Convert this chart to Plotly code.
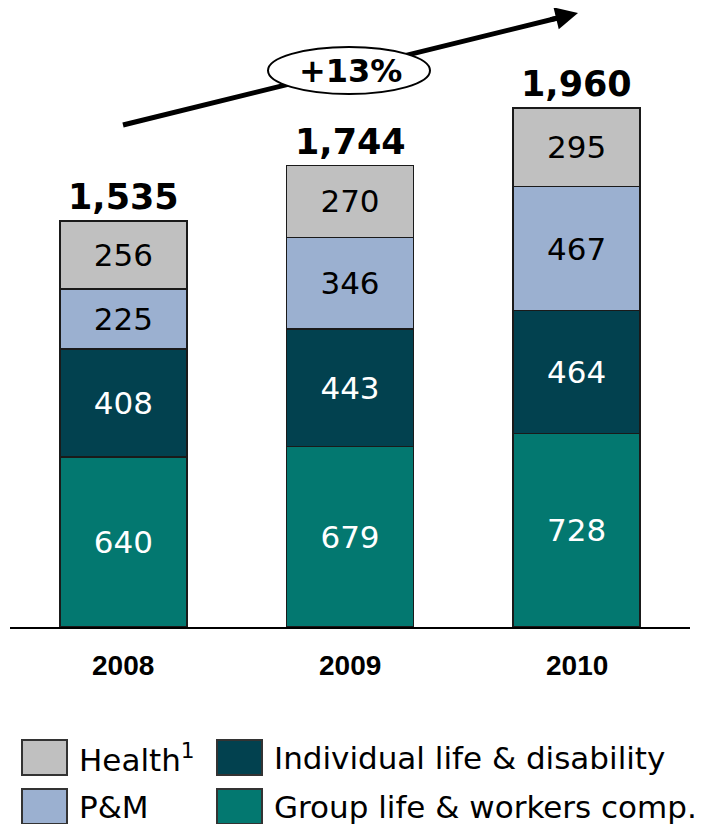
import plotly.graph_objects as go

years = ["2008", "2009", "2010"]
group_life = [640, 679, 728]
individual_life = [408, 443, 464]
pm = [225, 346, 467]
health = [256, 270, 295]
totals = ["1,535", "1,744", "1,960"]
series_names = ["Group life & workers comp.", "Individual life & disability", "P&M", "Health<sup>1</sup>"]
growth_label = "+13%"

colors = ["#037870", "#02414F", "#9BB0D0", "#C0C0C0"]
text_colors = ["white", "white", "black", "black"]
FONT = "DejaVu Sans"

OFF = 8  # page body margin
W0, W1 = 10, 690      # page x of plot area
BASE = 627            # page y of baseline
PLOT_H = BASE - OFF   # plot area height in figure
SCALE = 0.2655        # px per unit

fig = go.Figure()
for name, vals, c, tc in zip(series_names, [group_life, individual_life, pm, health], colors, text_colors):
    fig.add_trace(go.Bar(
        x=years, y=vals, name=name, marker=dict(color=c, line=dict(color="#1a1a1a", width=1.5)),
        text=[str(v) for v in vals], textposition="inside", insidetextanchor="middle",
        textangle=0, textfont=dict(family=FONT, size=31, color=tc),
        width=0.56, showlegend=False, hoverinfo="skip",
    ))

stack_tops = [a + b + c + d for a, b, c, d in zip(group_life, individual_life, pm, health)]
annotations = []
for i, (yr, top, t) in enumerate(zip(years, stack_tops, totals)):
    annotations.append(dict(x=i, y=top, text=f"<b>{t}</b>", showarrow=False, xref="x", yref="y",
                            xanchor="center", yanchor="bottom", yshift=2,
                            font=dict(family=FONT, size=35, color="black")))
    annotations.append(dict(x=i, y=0, text=f"<b>{yr}</b>", showarrow=False, xref="x", yref="y",
                            xanchor="center", yanchor="middle", yshift=-38,
                            font=dict(family="Liberation Sans", size=28, color="black")))

def px(x):
    return (x - W0) / (W1 - W0)
def py(y):
    return (BASE - y) / PLOT_H

shapes = []
shapes.append(dict(type="line", xref="paper", yref="paper", x0=px(123), y0=py(125), x1=px(566), y1=py(16),
                   line=dict(color="black", width=5)))
shapes.append(dict(type="circle", xref="paper", yref="paper", x0=px(268), x1=px(430), y0=py(94), y1=py(47),
                   fillcolor="white", line=dict(color="black", width=2)))
annotations.append(dict(x=px(350), y=py(71), xref="paper", yref="paper", text=f"<b>{growth_label}</b>",
                        showarrow=False, xanchor="center", yanchor="middle",
                        font=dict(family=FONT, size=32, color="black")))
annotations.append(dict(x=px(578), y=py(13), xref="paper", yref="paper", text="", showarrow=True,
                        ax=-29, ay=7, arrowhead=2, arrowsize=0.9, arrowwidth=5, arrowcolor="black"))

legend_items = [
    (22, 740, "Health<sup>1</sup>", colors[3]),
    (22, 789, "P&M", colors[2]),
    (217, 740, "Individual life & disability", colors[1]),
    (217, 789, "Group life & workers comp.", colors[0]),
]
for x, y, label, c in legend_items:
    shapes.append(dict(type="rect", xref="paper", yref="paper", x0=px(x), x1=px(x + 45), y0=py(y + 35), y1=py(y),
                       fillcolor=c, line=dict(color="#333333", width=2)))
    annotations.append(dict(x=px(x + 55), y=py(y + 18), xref="paper", yref="paper", text=label, showarrow=False,
                            xanchor="left", yanchor="middle", font=dict(family=FONT, size=31, color="black")))

fig.update_layout(
    barmode="stack", width=713 - OFF, height=824 - OFF,
    margin=dict(l=W0 - OFF, r=(713 - OFF) - (W1 - OFF), t=0, b=(824 - OFF) - PLOT_H, pad=0),
    paper_bgcolor="white", plot_bgcolor="white",
    xaxis=dict(type="category", range=[-0.5, 2.5], showline=True, linecolor="black", linewidth=2,
               showticklabels=False, ticks="", showgrid=False, zeroline=False, fixedrange=True),
    yaxis=dict(range=[0, PLOT_H / SCALE], visible=False, showgrid=False, zeroline=False),
    shapes=shapes, annotations=annotations, uniformtext=dict(minsize=8, mode="show"),
)
fig.write_html("out.html")
